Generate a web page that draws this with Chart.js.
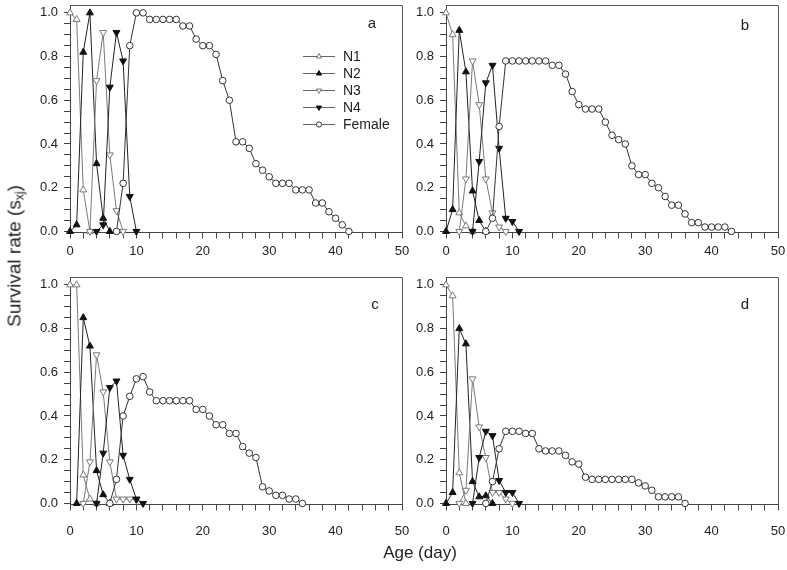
<!DOCTYPE html>
<html>
<head>
<meta charset="utf-8">
<script src="https://cdn.jsdelivr.net/npm/chart.js@4/dist/chart.umd.min.js"></script>
<style>
  html, body { margin: 0; padding: 0; background: #fff; }
  #wrap { position: relative; width: 787px; height: 570px; overflow: hidden; font-family: "Liberation Sans", Arial, sans-serif; color: #222; }
  #wrap canvas { position: absolute; }
  .ytitle { position: absolute; left: 15px; top: 256px; transform: translate(-50%, -50%) rotate(-90deg); font-size: 19px; white-space: nowrap; }
  .ytitle sub { font-size: 12px; vertical-align: -3px; }
  .xtitle { position: absolute; left: 420px; top: 553px; transform: translate(-50%, -50%); font-size: 17px; white-space: nowrap; }
</style>
</head>
<body>
<div id="wrap">
  <canvas id="pa" width="410" height="262" style="left:0;top:0"></canvas>
  <canvas id="pb" width="411" height="262" style="left:376px;top:0"></canvas>
  <canvas id="pc" width="410" height="272" style="left:0;top:272px"></canvas>
  <canvas id="pd" width="411" height="272" style="left:376px;top:272px"></canvas>
  <div class="ytitle">Survival rate (s<sub>xj</sub>)</div>
  <div class="xtitle">Age (day)</div>
</div>
<script>
(function(){
  // values indexed by age in days, null = not plotted
  const seriesNames = ['N1', 'N2', 'N3', 'N4', 'Female'];
  const xMajorTicks = [0, 10, 20, 30, 40, 50];
  const yMajorTicks = [0.0, 0.2, 0.4, 0.6, 0.8, 1.0];

  // panel a
  const aN1 = [1.0, 0.97, 0.19, 0];
  const aN2 = [0, 0.03, 0.82, 1.0, 0.31, 0.06, 0];
  const aN3 = [null, null, null, 0, 0.69, 0.91, 0.35, 0.095, 0];
  const aN4 = [null, null, null, null, 0, 0.03, 0.66, 0.91, 0.78, 0.16, 0];
  const aFemale = [null, null, null, null, null, null, null, 0, 0.22, 0.85, 1.0, 1.0, 0.97, 0.97, 0.97, 0.97, 0.97, 0.94, 0.94, 0.88, 0.85, 0.85, 0.81, 0.69, 0.60, 0.41, 0.41, 0.38, 0.31, 0.28, 0.25, 0.22, 0.22, 0.22, 0.19, 0.19, 0.19, 0.13, 0.13, 0.09, 0.06, 0.03, 0];

  // panel b
  const bN1 = [1.0, 0.90, 0.085, 0.025, 0];
  const bN2 = [0, 0.10, 0.92, 0.73, 0.185, 0.05, 0];
  const bN3 = [null, null, 0, 0.24, 0.78, 0.58, 0.24, 0.085, 0.02, 0];
  const bN4 = [null, null, null, null, 0, 0.32, 0.68, 0.76, 0.38, 0.06, 0.045, 0];
  const bFemale = [null, null, null, null, null, null, 0, 0.06, 0.48, 0.78, 0.78, 0.78, 0.78, 0.78, 0.78, 0.78, 0.76, 0.76, 0.72, 0.64, 0.58, 0.56, 0.56, 0.56, 0.50, 0.44, 0.42, 0.40, 0.30, 0.26, 0.26, 0.22, 0.20, 0.16, 0.12, 0.12, 0.08, 0.04, 0.04, 0.02, 0.02, 0.02, 0.02, 0];

  // panel c
  const cN1 = [1.0, 1.0, 0.13, 0.02, 0];
  const cN2 = [null, 0, 0.85, 0.72, 0.15, 0.04, 0];
  const cN3 = [null, null, 0, 0.19, 0.68, 0.51, 0.19, 0.02, 0.02, 0.02, 0.015];
  const cN4 = [null, null, null, null, 0, 0.23, 0.53, 0.56, 0.22, 0.11, 0.02, 0];
  const cFemale = [null, null, null, null, null, null, 0, 0.11, 0.40, 0.49, 0.57, 0.58, 0.51, 0.47, 0.47, 0.47, 0.47, 0.47, 0.47, 0.43, 0.43, 0.40, 0.36, 0.36, 0.32, 0.32, 0.26, 0.23, 0.21, 0.076, 0.057, 0.037, 0.037, 0.02, 0.02, 0];

  // panel d
  const dN1 = [1.0, 0.95, 0.14, 0];
  const dN2 = [0, 0.05, 0.80, 0.73, 0.10, 0.03, 0.035, 0];
  const dN3 = [null, null, 0, 0.06, 0.57, 0.35, 0.21, 0.05, 0.05, 0.02, 0];
  const dN4 = [null, null, null, null, 0, 0.21, 0.33, 0.31, 0.105, 0.05, 0.05, 0];
  const dFemale = [null, null, null, null, null, null, 0, 0.10, 0.25, 0.33, 0.33, 0.33, 0.32, 0.32, 0.25, 0.24, 0.24, 0.24, 0.22, 0.19, 0.18, 0.12, 0.11, 0.11, 0.11, 0.11, 0.11, 0.11, 0.11, 0.094, 0.08, 0.06, 0.03, 0.03, 0.03, 0.03, 0];

  const styles = {
    N1:     { shape: 'triangle', rot: 0,   fill: '#ffffff', stroke: '#7a7a7a', line: '#7a7a7a', r: 4 },
    N2:     { shape: 'triangle', rot: 0,   fill: '#111111', stroke: '#111111', line: '#222222', r: 4 },
    N3:     { shape: 'triangle', rot: 180, fill: '#ffffff', stroke: '#7a7a7a', line: '#7a7a7a', r: 4 },
    N4:     { shape: 'triangle', rot: 180, fill: '#111111', stroke: '#111111', line: '#222222', r: 4 },
    Female: { shape: 'circle',   rot: 0,   fill: '#ffffff', stroke: '#333333', line: '#333333', r: 3.3 }
  };

  Chart.defaults.font.family = '"Liberation Sans", Arial, sans-serif';
  Chart.defaults.font.size = 13;
  Chart.defaults.color = '#222';

  function toPoints(arr){
    return arr.map((v, i) => ({ x: i, y: v })).filter(p => p.y !== null);
  }

  function drawMarker(ctx, st, x, y, r){
    ctx.save();
    ctx.fillStyle = st.fill;
    ctx.strokeStyle = st.stroke;
    ctx.lineWidth = 1;
    ctx.beginPath();
    if (st.shape === 'circle'){
      ctx.arc(x, y, r, 0, Math.PI * 2);
    } else {
      const s = st.rot ? -1 : 1;
      ctx.moveTo(x, y - s * r);
      ctx.lineTo(x + r * 0.866, y + s * r * 0.5);
      ctx.lineTo(x - r * 0.866, y + s * r * 0.5);
      ctx.closePath();
    }
    ctx.fill();
    ctx.stroke();
    ctx.restore();
  }

  const framePlugin = {
    id: 'frame',
    beforeDatasetsDraw(chart){
      const a = chart.chartArea, ctx = chart.ctx;
      ctx.save();
      ctx.strokeStyle = '#555';
      ctx.lineWidth = 1;
      ctx.beginPath();
      ctx.moveTo(a.left, a.top + 0.5);
      ctx.lineTo(a.right + 0.5, a.top + 0.5);
      ctx.lineTo(a.right + 0.5, a.bottom);
      ctx.stroke();
      ctx.restore();
    }
  };

  function letterPlugin(letter, x, y){
    return {
      id: 'letter',
      afterDraw(chart){
        const ctx = chart.ctx;
        ctx.save();
        ctx.font = '15px "Liberation Sans", Arial, sans-serif';
        ctx.fillStyle = '#222';
        ctx.textAlign = 'center';
        ctx.textBaseline = 'middle';
        ctx.fillText(letter, x, y);
        ctx.restore();
      }
    };
  }

  const legendPlugin = {
    id: 'innerLegend',
    afterDraw(chart){
      const ctx = chart.ctx;
      seriesNames.forEach((name, i) => {
        const st = styles[name];
        const y = 56 + i * 17;
        ctx.save();
        ctx.strokeStyle = '#666';
        ctx.lineWidth = 1;
        ctx.beginPath();
        ctx.moveTo(303, y + 0.5);
        ctx.lineTo(335, y + 0.5);
        ctx.stroke();
        ctx.restore();
        drawMarker(ctx, st, 319, y + 0.5, st.shape === 'circle' ? 2.6 : 3);
        ctx.save();
        ctx.font = '14px "Liberation Sans", Arial, sans-serif';
        ctx.fillStyle = '#222';
        ctx.textBaseline = 'middle';
        ctx.fillText(name, 343, y + 1);
        ctx.restore();
      });
    }
  };

  // axisH: height reserved below the plot for ticks + labels
  function makePanel(id, data, letterPos, withLegend, padRight, axisH, labelPad){
    const datasets = seriesNames.map((name, k) => {
      const st = styles[name];
      return {
        label: name,
        data: toPoints(data[k]),
        borderColor: st.line,
        borderWidth: 1,
        pointStyle: st.shape,
        rotation: st.rot,
        pointRadius: st.r,
        pointBorderWidth: 1,
        pointBackgroundColor: st.fill,
        pointBorderColor: st.stroke,
        tension: 0,
        clip: false
      };
    }).reverse();

    const plugins = [framePlugin, letterPlugin(letterPos[0], letterPos[1], letterPos[2])];
    if (withLegend) plugins.push(legendPlugin);

    new Chart(document.getElementById(id).getContext('2d'), {
      type: 'line',
      data: { datasets },
      options: {
        responsive: false,
        animation: false,
        layout: { padding: { left: 0, right: padRight, top: 1, bottom: 0 } },
        plugins: { legend: { display: false }, tooltip: { enabled: false } },
        scales: {
          x: {
            type: 'linear', min: 0, max: 50,
            afterBuildTicks: ax => {
              const t = [];
              for (let v = 0; v <= 50; v += 2) t.push({ value: v });
              ax.ticks = t;
            },
            afterFit: ax => { ax.height = axisH; ax.paddingLeft = 0; ax.paddingRight = 0; },
            ticks: {
              autoSkip: false, maxRotation: 0, padding: labelPad, color: '#222',
              callback: v => xMajorTicks.includes(v) ? String(v) : ''
            },
            grid: { drawOnChartArea: false, tickLength: 6, color: '#444' },
            border: { color: '#444' }
          },
          y: {
            type: 'linear', min: -0.005, max: 1.036,
            afterBuildTicks: ax => {
              const t = [];
              for (let k = 0; k <= 20; k++) t.push({ value: k / 20 });
              ax.ticks = t;
            },
            afterFit: ax => { ax.width = 70; ax.paddingTop = 0; ax.paddingBottom = 0; },
            ticks: {
              autoSkip: false, padding: 6, color: '#222',
              callback: v => yMajorTicks.some(m => Math.abs(m - v) < 1e-6) ? v.toFixed(1) : ''
            },
            grid: { drawOnChartArea: false, tickLength: 6, color: '#444' },
            border: { color: '#444' }
          }
        }
      },
      plugins
    });
  }

  function init(){
    makePanel('pa', [aN1, aN2, aN3, aN4, aFemale], ['a', 372, 24], true, 8, 29.5, 5);
    makePanel('pb', [bN1, bN2, bN3, bN4, bFemale], ['b', 369, 26], false, 9, 29.5, 5);
    makePanel('pc', [cN1, cN2, cN3, cN4, cFemale], ['c', 375, 33], false, 8, 39.5, 13);
    makePanel('pd', [dN1, dN2, dN3, dN4, dFemale], ['d', 369, 33], false, 9, 39.5, 13);
  }

  if (document.readyState === 'loading') document.addEventListener('DOMContentLoaded', init);
  else init();
})();
</script>
</body>
</html>
